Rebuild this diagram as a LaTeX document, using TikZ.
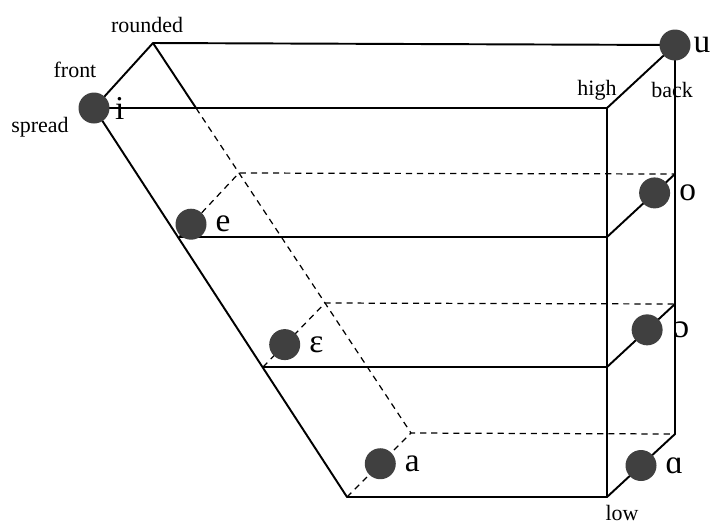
\documentclass[tikz,border=0pt]{standalone}
\usepackage{fontspec}
\setmainfont{Liberation Serif}
\usetikzlibrary{calc}
\tikzset{
    vowel/.style={circle, fill=black!75, inner sep=0pt, minimum size=0.62cm},
    vlabel/.style={font=\fontsize{19}{19}\selectfont, inner sep=0pt},
    side/.style={font=\fontsize{12.5}{13}\selectfont, inner sep=0pt},
    edge/.style={draw, line width=1.1pt, line join=round},
    hidden/.style={draw, line width=0.7pt, dash pattern=on 3.5pt off 2.8pt}
}
\begin{document}
\begin{tikzpicture}[x=0.02cm, y=-0.02cm, label distance=0.17cm]
    \useasboundingbox (0,0) rectangle (712,525);
    % front face corners, high to low
    \coordinate (fl0) at (94,108);
    \coordinate (fl1) at (179,237);
    \coordinate (fl2) at (263,367);
    \coordinate (fl3) at (347,497);
    \coordinate (fr0) at (607,108);
    \coordinate (fr1) at (607,237);
    \coordinate (fr2) at (607,367);
    \coordinate (fr3) at (607,497);
    % back face corners
    \coordinate (bl0) at (153,43);
    \coordinate (bl1) at (239,173);
    \coordinate (bl2) at (325,303);
    \coordinate (bl3) at (411,433);
    \coordinate (br0) at (675,45);
    \coordinate (br1) at (675,174);
    \coordinate (br2) at (675,304);
    \coordinate (br3) at (675,434);
    \coordinate (cross) at ($(bl0)!0.167!(bl3)$);

    % hidden edges
    \draw[hidden] (cross) -- (bl3);
    \foreach \k in {1,2,3} {
        \draw[hidden] (fl\k) -- (bl\k) -- (br\k);
    }

    % visible edges
    \draw[edge] (fl0) -- (bl0) -- (br0) -- (br3) -- (fr3) -- (fl3) -- cycle;
    \draw[edge] (fl0) -- (fr0) -- (br0);
    \draw[edge] (fr0) -- (fr3);
    \draw[edge] (bl0) -- (cross);
    \foreach \k in {1,2} {
        \draw[edge] (fl\k) -- (fr\k) -- (br\k);
    }

    % vowels
    \node[vowel, label={[vlabel, label distance=0.1cm]right:i}] (i) at (fl0) {};
    \node[vowel, label={[vlabel, label distance=0.05cm]right:u}] (u) at (br0) {};
    \node[vowel, label={[vlabel]right:e}] (e) at ($(fl1)!0.2!(bl1)$) {};
    \node[vowel, label={[vlabel]right:ɛ}] (epsilon) at ($(fl2)!0.35!(bl2)$) {};
    \node[vowel, label={[vlabel]right:a}] (a) at ($(fl3)!0.52!(bl3)$) {};
    \node[vowel, label={[vlabel]right:o}] (o) at ($(fr1)!0.7!(br1)$) {};
    \node[vowel, label={[vlabel, label distance=0.22cm]right:ɔ}] (openo) at ($(fr2)!0.59!(br2)$) {};
    \node[vowel, label={[vlabel]right:ɑ}] (alpha) at ($(fr3)!0.5!(br3)$) {};

    % dimension labels
    \node[side] (rounded) at (147,25) {rounded};
    \node[side] (front) at (75,70) {front};
    \node[side] (spread) at (40,127) {spread};
    \node[side] (high) at (597,90) {high};
    \node[side] (back) at (672,90) {back};
    \node[side] (low) at (622,513) {low};
\end{tikzpicture}
\end{document}
